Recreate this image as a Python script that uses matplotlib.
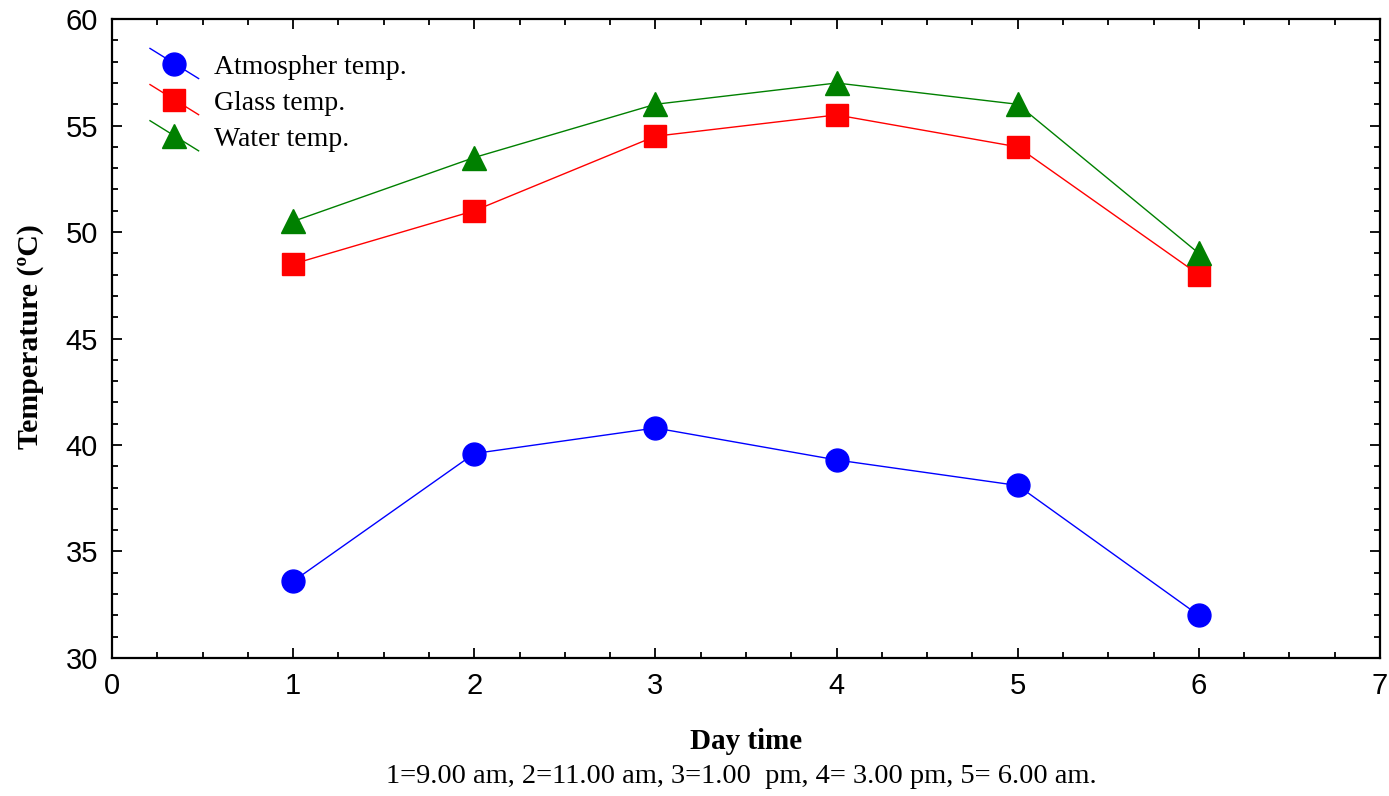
import matplotlib
matplotlib.use('Agg')
import matplotlib.pyplot as plt
from matplotlib.ticker import MultipleLocator
from matplotlib.lines import Line2D
from matplotlib.legend_handler import HandlerLine2D

# data
day_time = [1, 2, 3, 4, 5, 6]
atmos_temp = [33.6, 39.6, 40.8, 39.3, 38.1, 32.0]
glass_temp = [48.5, 51.0, 54.5, 55.5, 54.0, 48.0]
water_temp = [50.5, 53.5, 56.0, 57.0, 56.0, 49.0]


# legend key drawn as a diagonal line with the marker in the middle
class DiagonalHandler(HandlerLine2D):
    def create_artists(self, legend, orig_handle, xdescent, ydescent,
                       width, height, fontsize, trans):
        cy = height / 2 - ydescent
        x0, x1 = -xdescent, width - xdescent
        line = Line2D([x0, x1], [cy + 0.8 * height, cy - 0.75 * height],
                      color=orig_handle.get_color(), lw=orig_handle.get_linewidth())
        mark = Line2D([(x0 + x1) / 2], [cy], ls='none',
                      marker=orig_handle.get_marker(),
                      ms=orig_handle.get_markersize(),
                      color=orig_handle.get_color())
        line.set_transform(trans)
        mark.set_transform(trans)
        return [line, mark]


fig = plt.figure(figsize=(13.89, 7.96), dpi=100)
ax = fig.add_axes([0.0806, 0.1734, 0.9129, 0.8026])

ax.plot(day_time, atmos_temp, color='blue', lw=1, marker='o', ms=16.5, label='Atmospher temp.')
ax.plot(day_time, glass_temp, color='red', lw=1, marker='s', ms=16.5, label='Glass temp.')
ax.plot(day_time, water_temp, color='green', lw=1, marker='^', ms=17, label='Water temp.')

ax.set_xlim(0, 7)
ax.set_ylim(30, 60)
ax.xaxis.set_major_locator(MultipleLocator(1))
ax.xaxis.set_minor_locator(MultipleLocator(0.25))
ax.yaxis.set_major_locator(MultipleLocator(5))
ax.yaxis.set_minor_locator(MultipleLocator(1))
ax.tick_params(which='both', direction='in', top=True, right=True, width=1.3)
ax.tick_params(which='major', length=7, labelsize=21, pad=10)
ax.tick_params(which='minor', length=4)
for lab in ax.get_xticklabels() + ax.get_yticklabels():
    lab.set_family('Liberation Sans')
for sp in ax.spines.values():
    sp.set_linewidth(1.6)

fig.text(0.5371, 0.069, 'Day time', family='Liberation Serif', fontweight='bold',
         fontsize=21, ha='center', va='center')
fig.text(0.0216, 0.577, 'Temperature (ºC)', family='Liberation Serif', fontweight='bold',
         fontsize=21.5, ha='center', va='center', rotation=90)
fig.text(0.534, 0.025, '1=9.00 am, 2=11.00 am, 3=1.00  pm, 4= 3.00 pm, 5= 6.00 am.',
         family='Liberation Serif', fontsize=20.5, ha='center', va='center')

ax.legend(loc='upper left', frameon=False, prop={'family': 'Liberation Serif', 'size': 20},
          bbox_to_anchor=(0.030, 0.945), handlelength=1.75, handletextpad=0.55,
          labelspacing=0.385, borderpad=0, borderaxespad=0,
          handler_map={Line2D: DiagonalHandler()})

fig.savefig('out.png', dpi=100)
